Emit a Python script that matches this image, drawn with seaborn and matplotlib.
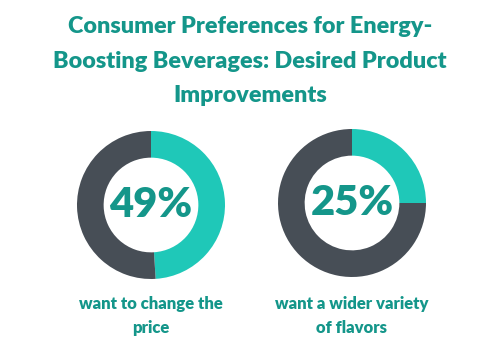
import matplotlib
matplotlib.use('Agg')
import matplotlib.pyplot as plt
import seaborn as sns

## Data
percents = [49, 25]
captions = ['want to change the\nprice', 'want a wider variety\nof flavors']
title    = 'Consumer Preferences for Energy-\nBoosting Beverages: Desired Product\nImprovements'

## Style
sns.set_theme(style='white')
plt.rcParams['font.family'] = ['Lato', 'DejaVu Sans']
teal_txt = '#14968a'
colors   = ['#1fc8b8', '#474e56']

W, H = 500, 354
fig = plt.figure(figsize=(W/100, H/100), dpi=100)
fig.patch.set_facecolor('white')

fig.text(0.5, 1 - 61/H, title, ha='center', va='center', fontsize=16.8,
         fontweight='heavy', color=teal_txt, linespacing=1.78)

centers = [(151, 205), (352, 203)]
r = 74
for i in range(len(percents)):
    cx, cy = centers[i]
    ax = fig.add_axes([(cx - r)/W, 1 - (cy + r)/H, 2*r/W, 2*r/H])
    ax.pie([percents[i], 100 - percents[i]], colors=colors, startangle=90,
           counterclock=False, radius=1, wedgeprops=dict(width=0.36, linewidth=0))
    ax.set_xlim(-1, 1)
    ax.set_ylim(-1, 1)
    ax.set_aspect('equal')
    ax.axis('off')
    ax.text(0, 0, str(percents[i]) + '%', ha='center', va='center',
            fontsize=30, fontweight='heavy', color=teal_txt)
    fig.text(cx/W, 1 - 316/H, captions[i], ha='center', va='center',
             fontsize=12, fontweight='heavy', color=teal_txt, linespacing=1.55)

fig.savefig('out.png', dpi=100)
